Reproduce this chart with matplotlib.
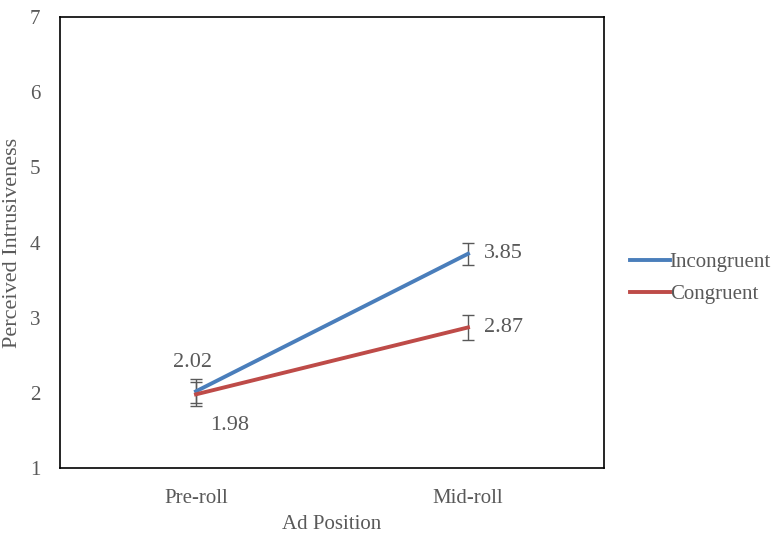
import numpy as np
import matplotlib.pyplot as plt

plt.rcParams['font.family'] = ['Liberation Serif', 'DejaVu Serif']

positions = ['Pre-roll', 'Mid-roll']
incongruent = [2.02, 3.85]
congruent = [1.98, 2.87]
incongruent_err = [0.16, 0.15]
congruent_err = [0.16, 0.17]

grey = '#595959'
blue = '#4a7ebb'
red = '#be4b48'

fig = plt.figure(figsize=(7.75, 5.33), dpi=100)
ax = fig.add_axes([60 / 775, 65 / 533, 544 / 775, 451 / 533])

x = np.arange(len(positions)) + 0.5
ax.plot(x, incongruent, color=blue, lw=2.8, label='Incongruent', zorder=3)
ax.plot(x, congruent, color=red, lw=2.8, label='Congruent', zorder=3)
ax.errorbar(x, incongruent, yerr=incongruent_err, fmt='none', ecolor=grey,
            elinewidth=1, capsize=4, capthick=1, zorder=2)
ax.errorbar(x, congruent, yerr=congruent_err, fmt='none', ecolor=grey,
            elinewidth=1, capsize=4, capthick=1, zorder=2)

# data labels
ax.annotate('%.2f' % incongruent[0], (x[0], incongruent[0]), xytext=(-3, 29),
            textcoords='offset pixels', ha='center', va='center', fontsize=16, color=grey)
ax.annotate('%.2f' % congruent[0], (x[0], congruent[0]), xytext=(34, -31),
            textcoords='offset pixels', ha='center', va='center', fontsize=16, color=grey)
ax.annotate('%.2f' % incongruent[1], (x[1], incongruent[1]), xytext=(16, 0),
            textcoords='offset pixels', ha='left', va='center', fontsize=16, color=grey)
ax.annotate('%.2f' % congruent[1], (x[1], congruent[1]), xytext=(16, 0),
            textcoords='offset pixels', ha='left', va='center', fontsize=16, color=grey)

ax.set_xlim(0, 2)
ax.set_ylim(1, 7)
ax.set_xticks(x)
ax.set_xticklabels(positions)
ax.set_yticks(range(1, 8))
ax.tick_params(length=0, labelsize=15, colors=grey)
ax.tick_params(axis='x', pad=15)
ax.tick_params(axis='y', pad=14)
for s in ax.spines.values():
    s.set_color('black')
    s.set_linewidth(1.2)

ax.set_xlabel('Ad Position', fontsize=15, color=grey, labelpad=5)
ax.set_ylabel('Perceived Intrusiveness', fontsize=16, color=grey, labelpad=6)

ax.legend(loc='center left', bbox_to_anchor=(1.0, 0.42), frameon=False,
          fontsize=15, labelcolor=grey, handlelength=1.9, handletextpad=0.0,
          borderaxespad=0.85, labelspacing=0.6)

plt.savefig('out.png', dpi=100)
